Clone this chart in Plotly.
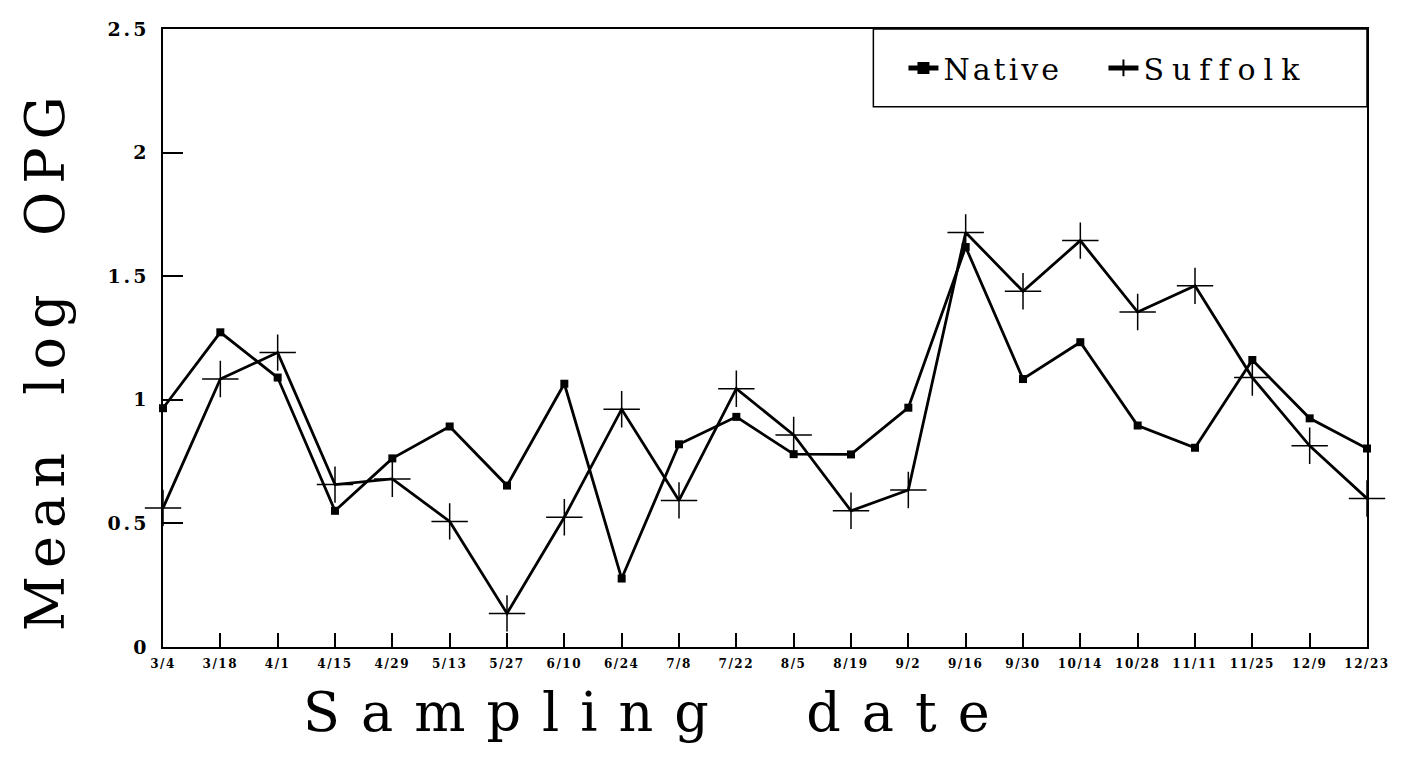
import plotly.graph_objects as go

dates = ["3/4", "3/18", "4/1", "4/15", "4/29", "5/13", "5/27", "6/10", "6/24", "7/8", "7/22",
         "8/5", "8/19", "9/2", "9/16", "9/30", "10/14", "10/28", "11/11", "11/25", "12/9", "12/23"]
native = [0.966, 1.273, 1.09, 0.551, 0.763, 0.892, 0.653, 1.065, 0.277, 0.82, 0.931,
          0.780, 0.779, 0.968, 1.618, 1.084, 1.233, 0.896, 0.806, 1.161, 0.925, 0.803]
suffolk = [0.562, 1.084, 1.191, 0.657, 0.680, 0.508, 0.136, 0.525, 0.962, 0.593, 1.045,
           0.858, 0.551, 0.635, 1.677, 1.439, 1.644, 1.355, 1.461, 1.09, 0.814, 0.601]
x_ticklabels = ["3/4", "3/18", "4/1", "4/15", "4/29", "5/13", "5/27", "6/10", "6/24", "7/8", "7/22",
                "8/5", "8/19", "9/2", "9/16", "9/30", "10/14", "10/28", "11/11", "11/25", "12/9", "12/23"]
y_ticks = [0, 0.5, 1, 1.5, 2, 2.5]
y_ticklabels = ["0", "0.5", "1", "1.5", "2", "2.5"]


def spaced(t, ls):
    return '<span style="letter-spacing:%spx">%s</span>' % (ls, t)


fig = go.Figure()
fig.add_trace(go.Scatter(
    x=dates, y=native, name=spaced("Native", 3), mode="lines+markers",
    line=dict(color="black", width=2.8),
    marker=dict(symbol="square", size=8, color="black"),
    cliponaxis=False,
))
fig.add_trace(go.Scatter(
    x=dates, y=suffolk, name=spaced("Suffolk", 8), mode="lines+markers",
    line=dict(color="black", width=2.8),
    marker=dict(symbol="cross-thin", size=26, color="black",
                line=dict(color="black", width=1.5)),
    cliponaxis=False,
))

# legend box
fig.add_shape(type="rect", xref="paper", yref="paper", x0=0.59, x1=1.0, y0=0.874, y1=1.0,
              line=dict(color="black", width=1.5), fillcolor="white", layer="below")

# axis titles
fig.add_annotation(text=spaced("Mean  log  OPG", 8), xref="paper", yref="paper",
                   x=0, y=0.464, xshift=-118, xanchor="center", yanchor="middle",
                   textangle=-90, showarrow=False,
                   font=dict(family="DejaVu Serif", size=54, color="black"))
fig.add_annotation(text=spaced("Sampling  date", 21), xref="paper", yref="paper",
                   x=0.41, y=0, yshift=-65, xanchor="center", yanchor="middle",
                   showarrow=False,
                   font=dict(family="DejaVu Serif", size=54, color="black"))

fig.update_layout(
    width=1392, height=748,
    margin=dict(l=155, r=14, t=10, b=109),
    paper_bgcolor="white", plot_bgcolor="rgba(0,0,0,0)",
    showlegend=True,
    legend=dict(orientation="h", x=0.615, y=0.937, xanchor="left", yanchor="middle",
                bgcolor="rgba(0,0,0,0)", borderwidth=0,
                entrywidth=155, entrywidthmode="pixels",
                font=dict(family="DejaVu Serif", size=30, color="black"),
                itemsizing="constant"),
    xaxis=dict(
        type="category", categoryorder="array", categoryarray=dates,
        range=[0, len(dates) - 1],
        tickvals=dates, ticktext=[spaced(t, 1.5) for t in x_ticklabels],
        showline=True, linecolor="black", linewidth=1.5, mirror=True,
        ticks="inside", ticklen=14, tickcolor="black", tickwidth=1.5,
        showgrid=False, zeroline=False, ticklabelstandoff=5,
        tickfont=dict(family="DejaVu Serif", size=12, color="black", weight="bold"),
    ),
    yaxis=dict(
        range=[0, 2.5], tickvals=y_ticks, ticktext=[spaced(t, 3) for t in y_ticklabels],
        showline=True, linecolor="black", linewidth=1.5, mirror=True,
        ticks="inside", ticklen=20, tickcolor="black", tickwidth=1.5,
        showgrid=False, zeroline=False, ticklabelstandoff=8,
        tickfont=dict(family="DejaVu Serif", size=19, color="black", weight="bold"),
    ),
)

fig.write_html("out.html")
